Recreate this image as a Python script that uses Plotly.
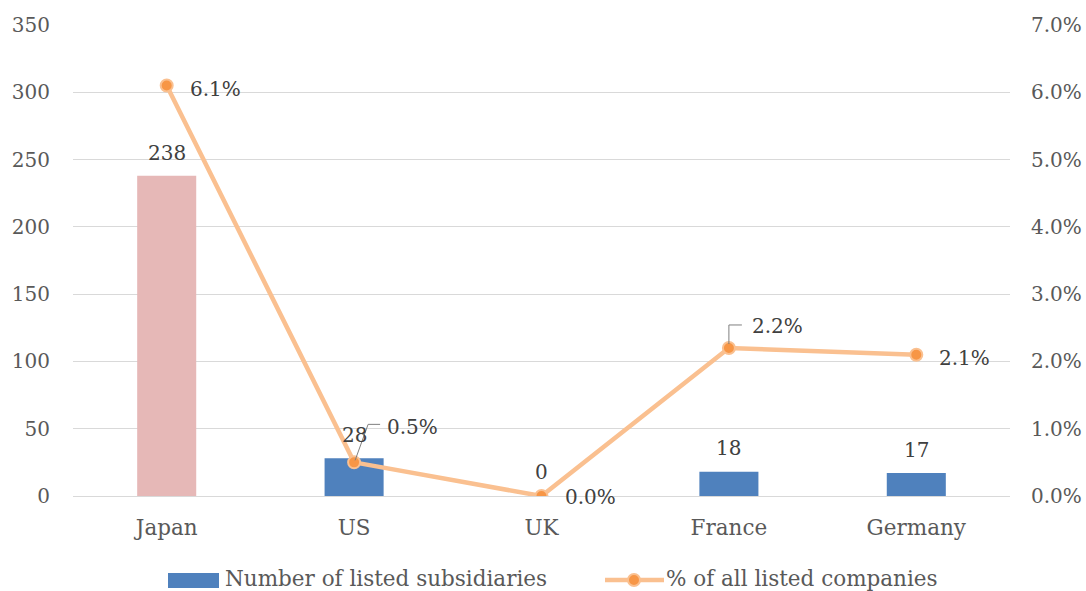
import plotly.graph_objects as go

categories = ["Japan", "US", "UK", "France", "Germany"]
subsidiaries = [238, 28, 0, 18, 17]
share = [0.061, 0.005, 0.0, 0.022, 0.021]
share_labels = ["6.1%", "0.5%", "0.0%", "2.2%", "2.1%"]
bar_colors = ["#E6B8B7", "#4F81BD", "#4F81BD", "#4F81BD", "#4F81BD"]
legend_names = ["Number of listed subsidiaries", "% of all listed companies"]

FONT = "DejaVu Serif"
FS = 20
FW = 21.5
TXT = "#404040"
AX = "#595959"

# plot area in pixels (for placing the manual legend)
L, R, T, B = 73, 76, 25, 95
PW, PH = 1086 - L - R, 591 - T - B
def px(x):
    return (x - L) / PW
def py(y):
    return (591 - B - y) / PH

fig = go.Figure()
fig.add_trace(go.Bar(
    x=categories, y=subsidiaries, name=legend_names[0],
    marker=dict(color=bar_colors, line=dict(width=0)), width=0.315,
    yaxis="y", showlegend=False,
))
fig.add_trace(go.Scatter(
    x=categories, y=share, name=legend_names[1], mode="lines+markers",
    line=dict(color="#FAC090", width=4.5),
    marker=dict(color="#F79646", size=12, line=dict(color="#FAC090", width=2)),
    yaxis="y2", showlegend=False,
))

annotations = []
bar_shift = [23, 23, 24, 24, 23]
for c, v, s in zip(categories, subsidiaries, bar_shift):
    annotations.append(dict(x=c, y=v, yref="y", text=str(v), showarrow=False,
                            yshift=s, font=dict(family=FONT, size=FS, color=TXT)))
line_off = [(21, -3), (31, 35), (21, -1), (21, 22), (21, -3)]
for c, v, lab, (dx, dy) in zip(categories, share, share_labels, line_off):
    annotations.append(dict(x=c, y=v, yref="y2", text=lab, showarrow=False,
                            xanchor="left", xshift=dx, yshift=dy,
                            font=dict(family=FONT, size=FS, color=TXT)))

# manual legend
LY = 578
annotations.append(dict(x=px(223), y=py(LY), xref="paper", yref="paper", text=legend_names[0],
                        showarrow=False, xanchor="left", yanchor="middle",
                        font=dict(family=FONT, size=FW, color=AX)))
annotations.append(dict(x=px(664), y=py(LY), xref="paper", yref="paper", text=legend_names[1],
                        showarrow=False, xanchor="left", yanchor="middle",
                        font=dict(family=FONT, size=FW, color=AX)))

shapes = [
    dict(type="path", xref="x", yref="y2", xsizemode="pixel", ysizemode="pixel",
         xanchor="US", yanchor=0.005, path="M 1,2 L 14,38 L 26,38",
         line=dict(color="#7F7F7F", width=1)),
    dict(type="path", xref="x", yref="y2", xsizemode="pixel", ysizemode="pixel",
         xanchor="France", yanchor=0.022, path="M 0,4 L 0,23 L 13,23",
         line=dict(color="#7F7F7F", width=1)),
    dict(type="rect", xref="paper", yref="paper", x0=px(168), x1=px(219), y0=py(588), y1=py(573),
         fillcolor="#4F81BD", line=dict(width=0)),
    dict(type="line", xref="paper", yref="paper", x0=px(605), x1=px(664), y0=py(580), y1=py(580),
         line=dict(color="#FAC090", width=4.5)),
    dict(type="circle", xref="paper", yref="paper", xsizemode="pixel", ysizemode="pixel",
         xanchor=px(634), yanchor=py(580), x0=-6, x1=6, y0=-6, y1=6,
         fillcolor="#F79646", line=dict(color="#FAC090", width=2)),
]

fig.update_layout(
    width=1086, height=591,
    margin=dict(l=L, r=R, t=T, b=B, autoexpand=False),
    paper_bgcolor="white", plot_bgcolor="white",
    font=dict(family=FONT, size=FS, color=AX),
    showlegend=False,
    xaxis=dict(showgrid=False, showline=False, ticks="outside", ticklen=12,
               tickcolor="rgba(0,0,0,0)", tickfont=dict(family=FONT, size=FW, color=AX)),
    yaxis=dict(range=[0, 350], dtick=50, showgrid=True, gridcolor="#D9D9D9", gridwidth=1,
               zeroline=True, zerolinecolor="#D9D9D9", zerolinewidth=1, showline=False,
               ticks="outside", ticklen=18, tickcolor="rgba(0,0,0,0)",
               tickfont=dict(family=FONT, size=FS, color=AX)),
    yaxis2=dict(range=[0, 0.07], dtick=0.01, tickformat=".1%", overlaying="y", side="right",
                showgrid=False, zeroline=False, showline=False,
                ticks="outside", ticklen=16, tickcolor="rgba(0,0,0,0)",
                tickfont=dict(family=FONT, size=FS, color=AX)),
    annotations=annotations,
    shapes=shapes,
)

fig.write_html("out.html", config={"displayModeBar": False},
               post_script="document.body.style.margin='0px';")
